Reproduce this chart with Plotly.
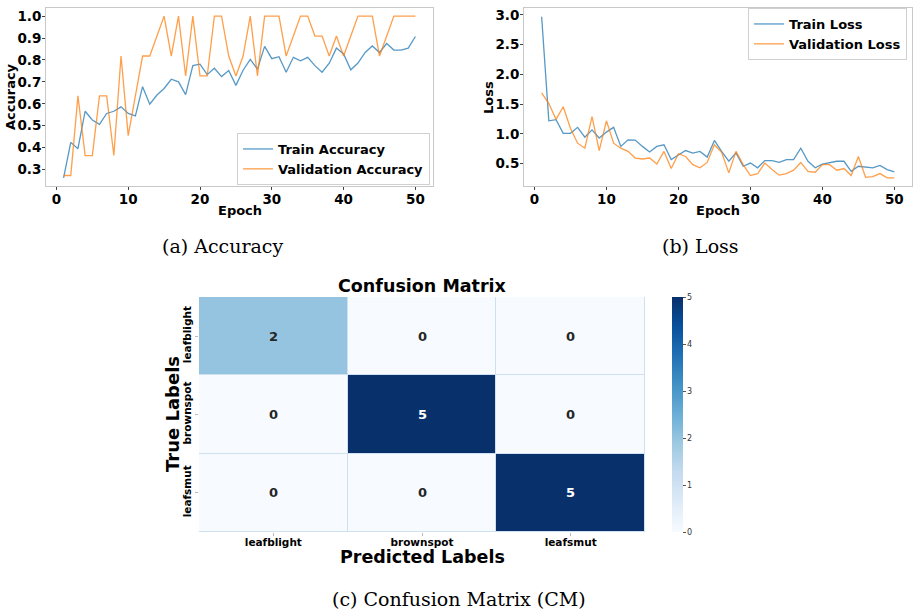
import plotly.graph_objects as go

epochs = list(range(1, 51))

train_acc = [0.262, 0.424, 0.395, 0.566, 0.526, 0.506, 0.556, 0.566, 0.586, 0.556,
             0.545, 0.678, 0.598, 0.640, 0.670, 0.712, 0.700, 0.642, 0.774, 0.781,
             0.733, 0.762, 0.724, 0.752, 0.684, 0.753, 0.803, 0.758, 0.862, 0.806,
             0.815, 0.744, 0.812, 0.796, 0.812, 0.774, 0.744, 0.785, 0.854, 0.827,
             0.755, 0.786, 0.834, 0.864, 0.834, 0.875, 0.845, 0.845, 0.854, 0.907]

val_acc = [0.273, 0.273, 0.636, 0.364, 0.364, 0.636, 0.636, 0.364, 0.818, 0.455,
           0.636, 0.818, 0.818, 0.909, 1.0, 0.818, 1.0, 0.727, 1.0, 0.727,
           0.727, 1.0, 1.0, 0.818, 0.727, 0.818, 1.0, 0.727, 1.0, 1.0,
           1.0, 0.818, 0.909, 1.0, 1.0, 0.909, 0.909, 0.818, 0.909, 0.818,
           0.909, 1.0, 1.0, 1.0, 0.818, 0.909, 1.0, 1.0, 1.0, 1.0]

train_loss = [2.97, 1.22, 1.24, 1.01, 1.01, 1.11, 0.944, 1.067, 0.93, 1.03,
              1.11, 0.79, 0.90, 0.895, 0.79, 0.695, 0.79, 0.817, 0.567, 0.65,
              0.72, 0.678, 0.706, 0.61, 0.89, 0.706, 0.54, 0.68, 0.456, 0.51,
              0.43, 0.55, 0.55, 0.52, 0.567, 0.567, 0.76, 0.54, 0.43, 0.49,
              0.517, 0.54, 0.54, 0.37, 0.456, 0.44, 0.43, 0.47, 0.40, 0.36]

val_loss = [1.69, 1.51, 1.244, 1.456, 1.094, 0.844, 0.76, 1.29, 0.717, 1.22,
            0.844, 0.76, 0.706, 0.594, 0.578, 0.594, 0.494, 0.706, 0.417, 0.667,
            0.62, 0.483, 0.43, 0.52, 0.817, 0.69, 0.344, 0.706, 0.483, 0.30,
            0.33, 0.51, 0.40, 0.306, 0.333, 0.39, 0.52, 0.37, 0.356, 0.483,
            0.483, 0.39, 0.417, 0.30, 0.62, 0.27, 0.28, 0.333, 0.26, 0.26]

class_labels = ["leafblight", "brownspot", "leafsmut"]
cm_values = [[2, 0, 0],
             [0, 5, 0],
             [0, 0, 5]]

W, H = 914, 612
def px(x):
    return x / W
def py(y):
    return 1 - y / H

BLUE = "#1f77b4"
ORANGE = "#ff7f0e"
FONT = "DejaVu Sans"
BOLD = dict(family=FONT, weight="bold", color="black")

fig = go.Figure()

fig.add_trace(go.Scatter(x=epochs, y=train_acc, mode="lines", name="Train Accuracy",
                         line=dict(color=BLUE, width=1.3), opacity=0.75,
                         xaxis="x", yaxis="y", legend="legend"))
fig.add_trace(go.Scatter(x=epochs, y=val_acc, mode="lines", name="Validation Accuracy",
                         line=dict(color=ORANGE, width=1.3), opacity=0.75,
                         xaxis="x", yaxis="y", legend="legend"))
fig.add_trace(go.Scatter(x=epochs, y=train_loss, mode="lines", name="Train Loss",
                         line=dict(color=BLUE, width=1.3), opacity=0.75,
                         xaxis="x2", yaxis="y2", legend="legend2"))
fig.add_trace(go.Scatter(x=epochs, y=val_loss, mode="lines", name="Validation Loss",
                         line=dict(color=ORANGE, width=1.3), opacity=0.75,
                         xaxis="x2", yaxis="y2", legend="legend2"))

text_colors = [["white" if v >= 3 else "#262626" for v in row] for row in cm_values]
fig.add_trace(go.Heatmap(
    z=cm_values, x=class_labels, y=class_labels,
    colorscale="Blues", zmin=0, zmax=5, xgap=1, ygap=1,
    xaxis="x3", yaxis="y3", showscale=True,
    colorbar=dict(x=px(672), xanchor="left", xpad=0, y=py(532), yanchor="bottom",
                  ypad=0, len=(532 - 297) / H, lenmode="fraction", thickness=11,
                  outlinewidth=0, ticks="outside", ticklen=3, tickcolor="#555",
                  tickvals=[0, 1, 2, 3, 4, 5],
                  tickfont=dict(family=FONT, size=8, color="#333")),
    hoverinfo="skip"))

for i, row in enumerate(cm_values):
    for j, v in enumerate(row):
        fig.add_annotation(x=class_labels[j], y=class_labels[i], xref="x3", yref="y3",
                           text=str(v), showarrow=False,
                           font=dict(family=FONT, size=13, weight="bold",
                                     color=text_colors[i][j]))

common_axis = dict(showgrid=False, zeroline=False, showline=True, mirror=True,
                   linecolor="#c8c8c8", linewidth=1, ticks="outside", ticklen=3,
                   tickcolor="#444", tickfont=dict(size=13.5, **BOLD), automargin=False,
                   ticklabelstandoff=-2)

fig.update_layout(
    width=W, height=H, margin=dict(l=0, r=0, t=0, b=0, autoexpand=False),
    paper_bgcolor="white", plot_bgcolor="#cfe0f0",
    showlegend=True,
    xaxis=dict(domain=[px(46), px(433)], range=[-1.45, 52.45], anchor="y",
               tickvals=[0, 10, 20, 30, 40, 50], **common_axis),
    yaxis=dict(domain=[py(186), py(8)], range=[0.225, 1.037], anchor="x",
               tickvals=[0.3, 0.4, 0.5, 0.6, 0.7, 0.8, 0.9, 1.0], tickformat=".1f",
               **common_axis),
    xaxis2=dict(domain=[px(524), px(912)], range=[-1.45, 52.45], anchor="y2",
                tickvals=[0, 10, 20, 30, 40, 50], **common_axis),
    yaxis2=dict(domain=[py(186), py(8)], range=[0.124, 3.116], anchor="x2",
                tickvals=[0.5, 1.0, 1.5, 2.0, 2.5, 3.0], tickformat=".1f",
                **common_axis),
    xaxis3=dict(domain=[px(199), px(645)], anchor="y3", showgrid=False, zeroline=False,
                showline=False, ticks="outside", ticklen=3, tickcolor="#bbb",
                ticklabelstandoff=-3,
                tickfont=dict(size=10.5, **BOLD), automargin=False),
    yaxis3=dict(domain=[py(532), py(297)], anchor="x3", autorange="reversed",
                showgrid=False, zeroline=False, showline=False, ticks="outside",
                ticklen=3, tickcolor="#bbb", tickangle=-90,
                tickfont=dict(size=10.5, **BOLD), automargin=False),
    legend=dict(x=px(430), xanchor="right", y=py(159), yanchor="middle",
                bgcolor="rgba(255,255,255,0.8)", bordercolor="#d0d0d0", borderwidth=1,
                font=dict(size=13, **BOLD), tracegroupgap=0, itemwidth=30),
    legend2=dict(x=px(907), xanchor="right", y=py(34), yanchor="middle",
                 bgcolor="rgba(255,255,255,0.8)", bordercolor="#d0d0d0", borderwidth=1,
                 font=dict(size=13, **BOLD), tracegroupgap=0, itemwidth=30),
)

# white backgrounds for line plots (plot_bgcolor shows as heatmap cell borders)
for x0, x1 in [(46, 433), (524, 912)]:
    fig.add_shape(type="rect", xref="paper", yref="paper", x0=px(x0), x1=px(x1),
                  y0=py(186), y1=py(8), fillcolor="white", line=dict(width=0),
                  layer="below")

def label(x, y, text, size, angle=0, font=None):
    fig.add_annotation(x=px(x), y=py(y), xref="paper", yref="paper", showarrow=False,
                       xanchor="center", yanchor="middle",
                       text=text, textangle=angle,
                       font=font if font else dict(size=size, **BOLD))

# axis titles
label(10, 97, "Accuracy", 13, -90)
label(240, 210, "Epoch", 13)
label(489, 98, "Loss", 13, -90)
label(718, 210, "Epoch", 13)
label(422, 286, "Confusion Matrix", 17.5)
label(172, 414, "True Labels", 18, -90)
label(422, 557, "Predicted Labels", 17.5)

caption_font = dict(family="DejaVu Serif", size=19, color="black")
label(222, 246, "(a) Accuracy", 19, font=caption_font)
label(700, 246, "(b) Loss", 19, font=caption_font)
label(459, 599, "(c) Confusion Matrix (CM)", 19, font=caption_font)

fig.write_html("out.html", post_script="document.body.style.margin='0';",
               config={"displayModeBar": False})
